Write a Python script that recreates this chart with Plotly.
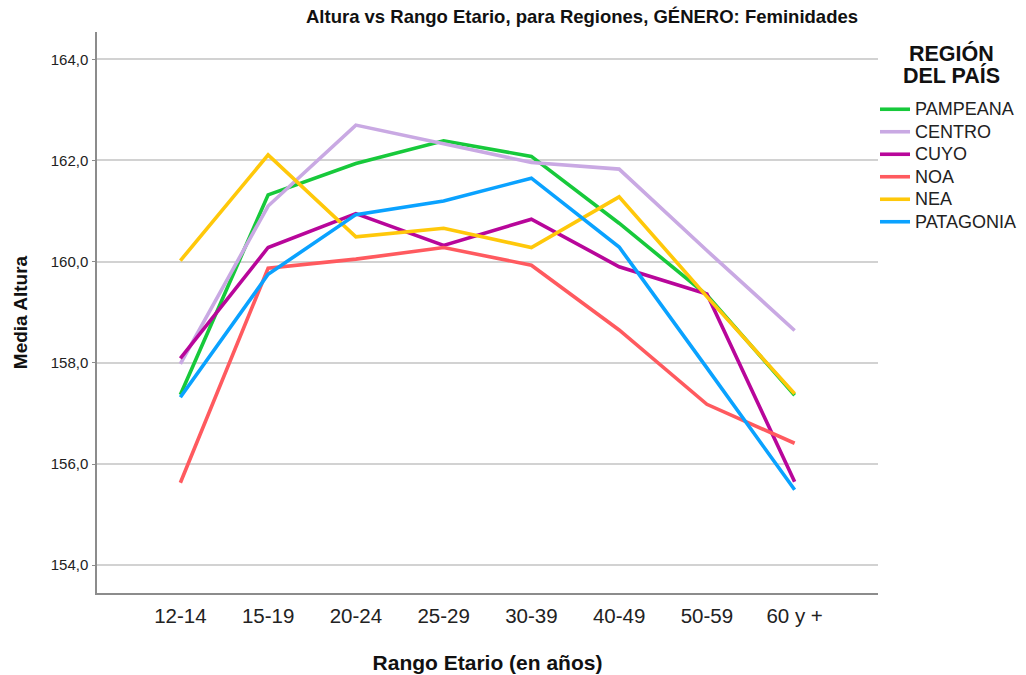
import plotly.graph_objects as go

categories = ["12-14", "15-19", "20-24", "25-29", "30-39", "40-49", "50-59", "60 y +"]
regions = ["PAMPEANA", "CENTRO", "CUYO", "NOA", "NEA", "PATAGONIA"]
pampeana = [157.37, 161.32, 161.94, 162.39, 162.08, 160.76, 159.34, 157.36]
centro = [157.98, 161.10, 162.70, 162.33, 161.96, 161.83, 160.22, 158.64]
cuyo = [158.09, 160.28, 160.95, 160.32, 160.84, 159.90, 159.36, 155.65]
noa = [155.63, 159.87, 160.05, 160.28, 159.93, 158.65, 157.18, 156.41]
nea = [160.02, 162.11, 160.49, 160.66, 160.28, 161.28, 159.31, 157.39]
patagonia = [157.32, 159.75, 160.93, 161.20, 161.65, 160.29, 157.90, 155.49]
y_ticks = [154, 156, 158, 160, 162, 164]
legend_title_lines = ["REGIÓN", "DEL PAÍS"]

series = [pampeana, centro, cuyo, noa, nea, patagonia]
colors = ["#17c93b", "#c9a9e3", "#b8069a", "#ff5a5f", "#ffc80a", "#0aa2ff"]

fig = go.Figure()
for name, vals, col in zip(regions, series, colors):
    fig.add_trace(go.Scatter(
        x=categories, y=vals, mode="lines",
        name=f'<span style="font-size:18px">{name}</span>',
        line=dict(color=col, width=3.6),
    ))

# legend title, two tightly spaced lines
for i, line in enumerate(legend_title_lines):
    fig.add_annotation(
        text=f"<b>{line}</b>", showarrow=False,
        xref="paper", yref="paper",
        x=1 + (951 - 878) / 781, xanchor="center",
        y=1 + (32 - (54 + 21.7 * i)) / 562, yanchor="middle",
        font=dict(size=21.5, color="#111"),
    )

base_font = "Liberation Sans, Arial, sans-serif"
fig.update_layout(
    width=1026, height=675,
    margin=dict(l=97, r=148, t=32, b=82, autoexpand=False),
    paper_bgcolor="white", plot_bgcolor="white",
    separators=",.",
    font=dict(family=base_font, color="#222"),
    title=dict(
        text="<b>Altura vs Rango Etario, para Regiones, GÉNERO: Feminidades</b>",
        font=dict(size=18.5, color="#111", family=base_font),
        x=582 / 1026, xanchor="center", xref="container",
        y=1 - 17 / 675, yanchor="middle", yref="container",
    ),
    xaxis=dict(
        type="category", range=[-0.95, 7.95], automargin=False,
        showgrid=False, zeroline=False,
        showline=True, linecolor="#8c8c8c", linewidth=1.5,
        ticks="", tickfont=dict(size=20.5, color="#222"),
        ticklabelstandoff=4,
        title=dict(text="<b>Rango Etario (en años)</b>",
                   font=dict(size=21, color="#111"), standoff=29),
    ),
    yaxis=dict(
        range=[153.45, 164.54], tickvals=y_ticks, tickformat=".1f",
        automargin=False,
        showgrid=True, gridcolor="#d2d2d2", gridwidth=1.6,
        zeroline=False,
        showline=True, linecolor="#8c8c8c", linewidth=1.5,
        ticks="outside", ticklen=3, tickcolor="#8c8c8c",
        tickfont=dict(size=15, color="#222"),
        ticklabelstandoff=1,
        title=dict(text="<b>Media Altura</b>",
                   font=dict(size=19, color="#111"), standoff=18),
    ),
    legend=dict(
        font=dict(size=15, color="#222"),
        xref="container", yref="container",
        x=875 / 1026, xanchor="left",
        y=1 - 93 / 675, yanchor="top",
        bgcolor="rgba(0,0,0,0)", borderwidth=0,
        itemclick=False,
    ),
    showlegend=True,
)

fig.write_html("out.html", config={"displayModeBar": False},
               post_script="document.body.style.margin='0';")
